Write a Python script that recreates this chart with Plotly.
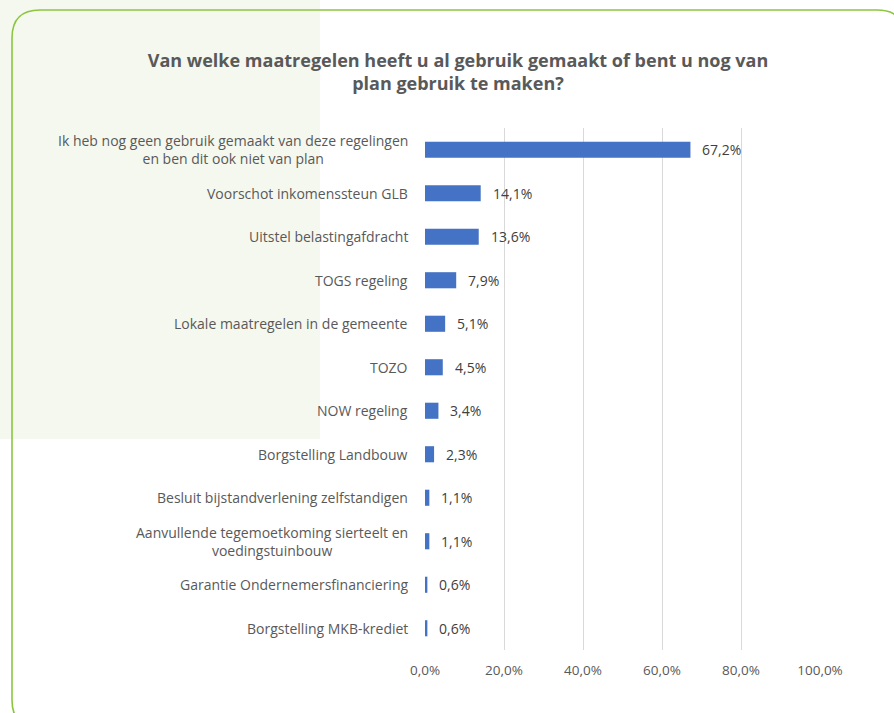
import plotly.graph_objects as go

categories = [
    "Ik heb nog geen gebruik gemaakt van deze regelingen<br>en ben dit ook niet van plan",
    "Voorschot inkomenssteun GLB",
    "Uitstel belastingafdracht",
    "TOGS regeling",
    "Lokale maatregelen in de gemeente",
    "TOZO",
    "NOW regeling",
    "Borgstelling Landbouw",
    "Besluit bijstandverlening zelfstandigen",
    "Aanvullende tegemoetkoming sierteelt en<br>voedingstuinbouw",
    "Garantie Ondernemersfinanciering",
    "Borgstelling MKB-krediet",
]
values = [67.2, 14.1, 13.6, 7.9, 5.1, 4.5, 3.4, 2.3, 1.1, 1.1, 0.6, 0.6]
tick_vals = [0, 20, 40, 60, 80, 100]
tick_text = ["0,0%", "20,0%", "40,0%", "60,0%", "80,0%", "100,0%"]
title_text = "Van welke maatregelen heeft u al gebruik gemaakt of bent u nog van<br>plan gebruik te maken?"

W, H = 894, 713
L, R, T, B = 425, 74, 128, 63
pw, ph = W - L - R, H - T - B

def px(x):
    return (x - L) / pw

def py(y):
    return 1 - (y - T) / ph

FONT = "Open Sans"
GRAY = "#595959"

fig = go.Figure()
fig.add_trace(go.Bar(
    x=values, y=categories, orientation="h",
    marker=dict(color="#4472C4", line=dict(width=0)),
    width=0.37, hoverinfo="skip",
))

annotations = []
for c, v in zip(categories, values):
    annotations.append(dict(
        x=v, y=c, xref="x", yref="y", text=f"{v:.1f}%".replace(".", ","),
        showarrow=False, xanchor="left", xshift=10,
        font=dict(family=FONT, size=14, color="#404040"),
    ))
    annotations.append(dict(
        x=px(410), y=c, xref="paper", yref="y", text=c,
        showarrow=False, xanchor="right", align="center",
        font=dict(family=FONT, size=14, color=GRAY),
    ))

r = 28
x0, x1, y0, y1 = 12, 905, 10, 728
path = (
    f"M {px(x1)},{py(y0 + r)} "
    f"Q {px(x1)},{py(y0)} {px(x1 - r)},{py(y0)} "
    f"L {px(x0 + r)},{py(y0)} "
    f"Q {px(x0)},{py(y0)} {px(x0)},{py(y0 + r)} "
    f"L {px(x0)},{py(y1 - r)} "
    f"Q {px(x0)},{py(y1)} {px(x0 + r)},{py(y1)}"
)

shapes = [
    dict(type="rect", xref="paper", yref="paper",
         x0=px(0), x1=px(320), y0=py(0), y1=py(439),
         fillcolor="#f5f8ee", line=dict(width=0), layer="below"),
    dict(type="path", xref="paper", yref="paper", path=path,
         line=dict(color="#8cc63f", width=1.6), layer="above"),
]

fig.update_layout(
    width=W, height=H,
    margin=dict(l=L, r=R, t=T, b=B),
    paper_bgcolor="white", plot_bgcolor="rgba(0,0,0,0)",
    showlegend=False,
    title=dict(text=title_text, x=458 / W, xanchor="center",
               y=1 - 67 / H, yanchor="middle", yref="container",
               font=dict(family=FONT, size=18, color=GRAY, weight="bold")),
    xaxis=dict(range=[0, 100], tickvals=tick_vals, ticktext=tick_text,
               showgrid=True, gridcolor="#d9d9d9", gridwidth=1,
               zeroline=False, showline=False,
               ticks="outside", ticklen=8, tickcolor="rgba(0,0,0,0)",
               tickfont=dict(family=FONT, size=13.5, color=GRAY),
               fixedrange=True),
    yaxis=dict(autorange="reversed", showticklabels=False, showgrid=False,
               zeroline=False, showline=False, fixedrange=True),
    annotations=annotations,
    shapes=shapes,
)

fig.write_html("out.html", config={"displayModeBar": False},
               post_script="document.body.style.margin='0';")
